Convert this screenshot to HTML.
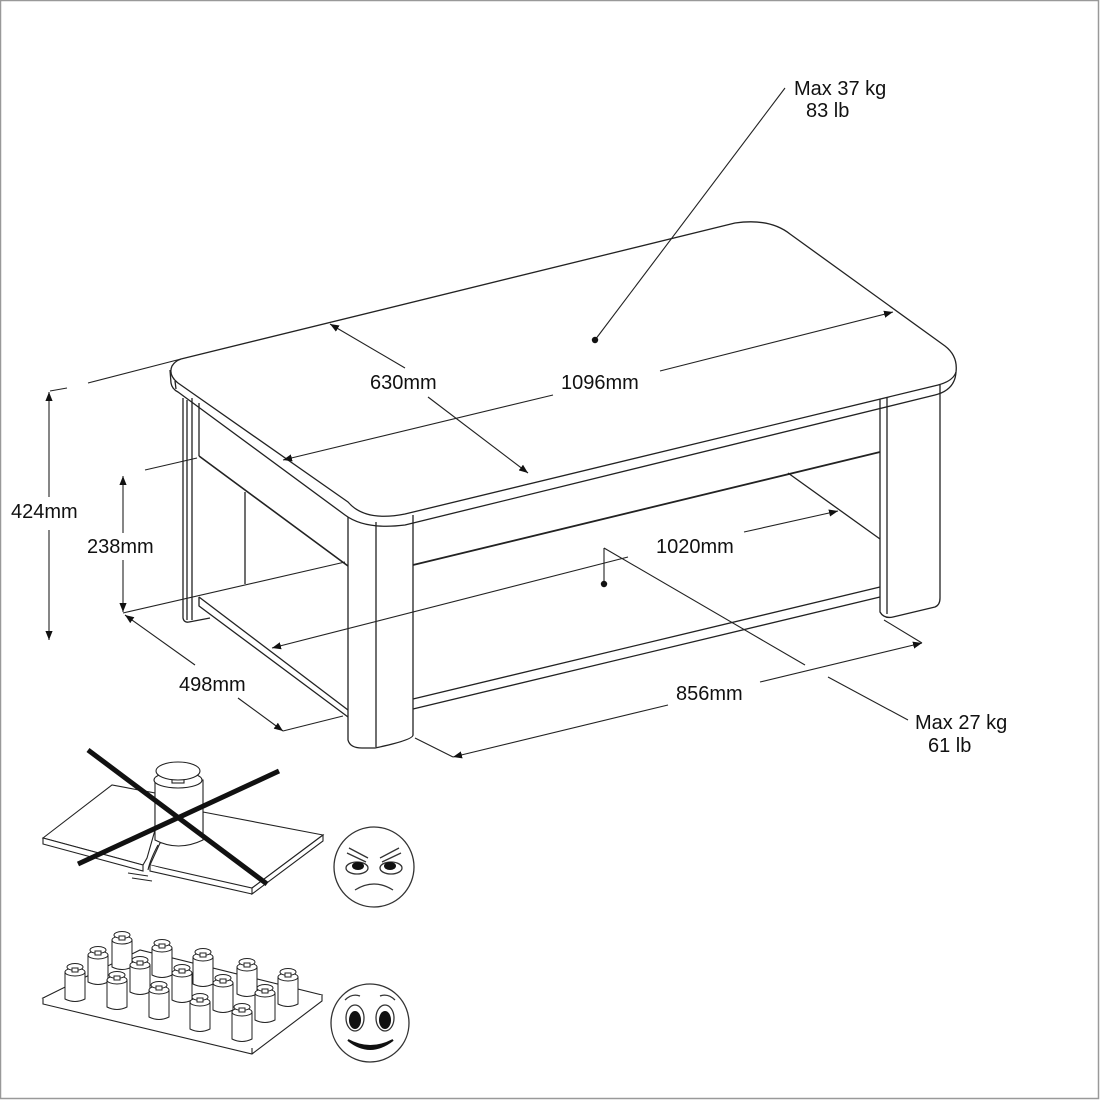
<!DOCTYPE html>
<html><head><meta charset="utf-8"><style>
html,body{margin:0;padding:0;background:#fff}
svg{display:block}
text{font-family:"Liberation Sans",sans-serif;font-size:20px;fill:#111}
</style></head><body>
<svg width="1100" height="1100" viewBox="0 0 1100 1100" xmlns="http://www.w3.org/2000/svg">
<defs>
<marker id="a" viewBox="0 0 10 10" refX="10" refY="5" markerWidth="9" markerHeight="9" orient="auto-start-reverse" markerUnits="userSpaceOnUse"><path d="M0,1 L10,5 L0,9 z" fill="#111"/></marker>
<g id="w" fill="#fff" stroke="#222" stroke-width="1"><path d="M0,0 L0,27 Q10,32 20,27 L20,0 Z"/><ellipse cx="10" cy="0" rx="10" ry="4"/><ellipse cx="10" cy="-5" rx="8" ry="3.5"/><rect x="7" y="-4" width="6" height="4"/></g>
</defs>
<rect x="0.5" y="0.5" width="1098" height="1098" fill="#fff" stroke="#999" stroke-width="1.5"/>
<g fill="none" stroke="#222" stroke-width="1.3" stroke-linejoin="round">
<path d="M183,398 L183,618 Q184,623 189,622 L210,618"/>
<line x1="187" y1="400" x2="187" y2="620"/>
<line x1="192" y1="398" x2="192" y2="620"/>
<line x1="199" y1="403" x2="199" y2="456"/>
<line x1="245" y1="492" x2="245" y2="584"/>
<path d="M199,456 L348,566" stroke-width="1.6"/>
<path d="M199,597 L199,606 L348,717"/>
<line x1="199" y1="597" x2="348" y2="710"/>
<line x1="413" y1="699" x2="880" y2="587"/>
<line x1="413" y1="709" x2="880" y2="597"/>
<line x1="788" y1="473" x2="880" y2="539"/>
<path d="M413,565 L880,452" stroke-width="1.8"/>
<path d="M880,393 L880,612 Q884,619 893,617 L935,607 Q940,605 940,598 L940,385"/>
<line x1="887" y1="395" x2="887" y2="614"/>
<path d="M348,517 L348,740 Q350,748 362,748 L375,748 Q413,740 413,735 L413,515"/>
<line x1="376" y1="522" x2="376" y2="747"/>
<path d="M181,359 L735,223 Q770,218 790,234 L945,346 Q958,356 956,372 Q953,382 934,386 L405,514 Q365,522 348,502 L178,383 Q168,375 172,366 Q175,361 181,359 Z" fill="#fff"/>
<path d="M170,370 L171,383 Q172,389 178,392 L345,515 Q365,530 405,525 L935,395 Q955,390 956,372"/>
<line x1="175" y1="381" x2="176" y2="389"/>
</g>
<g fill="none" stroke="#222" stroke-width="1.1">
<line x1="88" y1="383" x2="181" y2="359"/>
<line x1="50" y1="391" x2="67" y2="388"/>
<line x1="49" y1="392" x2="49" y2="497" marker-start="url(#a)"/>
<line x1="49" y1="530" x2="49" y2="640" marker-end="url(#a)"/>
<line x1="145" y1="470" x2="197" y2="458"/>
<line x1="123" y1="476" x2="123" y2="533" marker-start="url(#a)"/>
<line x1="123" y1="560" x2="123" y2="612" marker-end="url(#a)"/>
<line x1="123" y1="613" x2="345" y2="562"/>
<line x1="125" y1="615" x2="195" y2="665" marker-start="url(#a)"/>
<line x1="238" y1="698" x2="283" y2="731" marker-end="url(#a)"/>
<line x1="283" y1="731" x2="343" y2="716"/>
<line x1="330" y1="324" x2="405" y2="368" marker-start="url(#a)"/>
<line x1="428" y1="397" x2="528" y2="473" marker-end="url(#a)"/>
<line x1="283" y1="460" x2="553" y2="395" marker-start="url(#a)"/>
<line x1="660" y1="371" x2="893" y2="312" marker-end="url(#a)"/>
<line x1="272" y1="648" x2="628" y2="557" marker-start="url(#a)"/>
<line x1="744" y1="532" x2="838" y2="511" marker-end="url(#a)"/>
<line x1="415" y1="738" x2="453" y2="757"/>
<line x1="453" y1="757" x2="668" y2="705" marker-start="url(#a)"/>
<line x1="760" y1="682" x2="922" y2="643" marker-end="url(#a)"/>
<line x1="884" y1="620" x2="922" y2="643"/>
<line x1="595" y1="340" x2="785" y2="88"/>
<line x1="604" y1="548" x2="604" y2="582"/>
<line x1="604" y1="548" x2="805" y2="665"/>
<line x1="828" y1="677" x2="908" y2="720"/>
</g>
<circle cx="595" cy="340" r="3.2" fill="#111"/>
<circle cx="604" cy="584" r="3.2" fill="#111"/>
<text x="11" y="518">424mm</text>
<text x="87" y="553">238mm</text>
<text x="179" y="691">498mm</text>
<text x="370" y="389">630mm</text>
<text x="561" y="389">1096mm</text>
<text x="656" y="553">1020mm</text>
<text x="676" y="700">856mm</text>
<text x="794" y="95">Max 37 kg</text>
<text x="806" y="117">83 lb</text>
<text x="915" y="729">Max 27 kg</text>
<text x="928" y="752">61 lb</text>
<g fill="#fff" stroke="#222" stroke-width="1.1">
<path d="M43,838 L112,785 L155,793 L155,830 L147,858 L143,865 Z"/>
<path d="M43,838 L43,844 L143,871 L143,865 Z"/>
<path d="M203,812 L323,835 L252,888 L150,865 L160,843 L203,838 Z"/>
<path d="M323,835 L323,841 L252,894 L252,888 Z"/>
<path d="M150,865 L150,871 L252,894"/>
<path d="M155,780 L155,840 Q178,852 203,840 L203,780 Z"/>
<ellipse cx="178" cy="780" rx="24" ry="8"/>
<rect x="172" y="775" width="12" height="8"/>
<ellipse cx="178" cy="771" rx="22" ry="9"/>
<path d="M158,845 Q150,860 148,870" fill="none"/>
<path d="M128,873 L148,876 M132,878 L152,881" fill="none"/>
</g>
<line x1="88" y1="750" x2="267" y2="884" stroke="#111" stroke-width="5"/>
<line x1="78" y1="864" x2="279" y2="771" stroke="#111" stroke-width="5"/>
<g fill="none" stroke="#333" stroke-width="1.3">
<circle cx="374" cy="867" r="40"/>
<path d="M347,853 L366,862 M349,848 L368,858"/>
<path d="M401,853 L382,862 M399,848 L380,858"/>
<ellipse cx="357" cy="868" rx="11" ry="6"/>
<ellipse cx="391" cy="868" rx="11" ry="6"/>
<path d="M355,890 Q374,878 393,890"/>
</g>
<ellipse cx="358" cy="866" rx="6" ry="4" fill="#111"/>
<ellipse cx="390" cy="866" rx="6" ry="4" fill="#111"/>
<g fill="none" stroke="#333" stroke-width="1.3">
<circle cx="370" cy="1023" r="39"/>
<ellipse cx="355" cy="1018" rx="9" ry="13"/>
<ellipse cx="385" cy="1018" rx="9" ry="13"/>
<path d="M345,1000 Q352,993 360,996 M380,996 Q388,993 395,1000"/>
</g>
<ellipse cx="355" cy="1020" rx="6" ry="9" fill="#111"/>
<ellipse cx="385" cy="1020" rx="6" ry="9" fill="#111"/>
<path d="M348,1040 Q370,1058 393,1040 Q370,1052 348,1040 Z" fill="#111" stroke="#111" stroke-width="2"/>
<g fill="#fff" stroke="#222" stroke-width="1.1">
<path d="M43,998 L140,950 L322,995 L252,1048 Z"/>
<path d="M43,998 L43,1004 L252,1054 L322,1001 L322,995"/>
<line x1="252" y1="1048" x2="252" y2="1054"/>
</g>
<use href="#w" x="65" y="972"/>
<use href="#w" x="88" y="955"/>
<use href="#w" x="112" y="940"/>
<use href="#w" x="107" y="980"/>
<use href="#w" x="130" y="965"/>
<use href="#w" x="152" y="948"/>
<use href="#w" x="149" y="990"/>
<use href="#w" x="172" y="973"/>
<use href="#w" x="193" y="957"/>
<use href="#w" x="190" y="1002"/>
<use href="#w" x="213" y="983"/>
<use href="#w" x="237" y="967"/>
<use href="#w" x="232" y="1012"/>
<use href="#w" x="255" y="993"/>
<use href="#w" x="278" y="977"/>
</svg>
</body></html>
